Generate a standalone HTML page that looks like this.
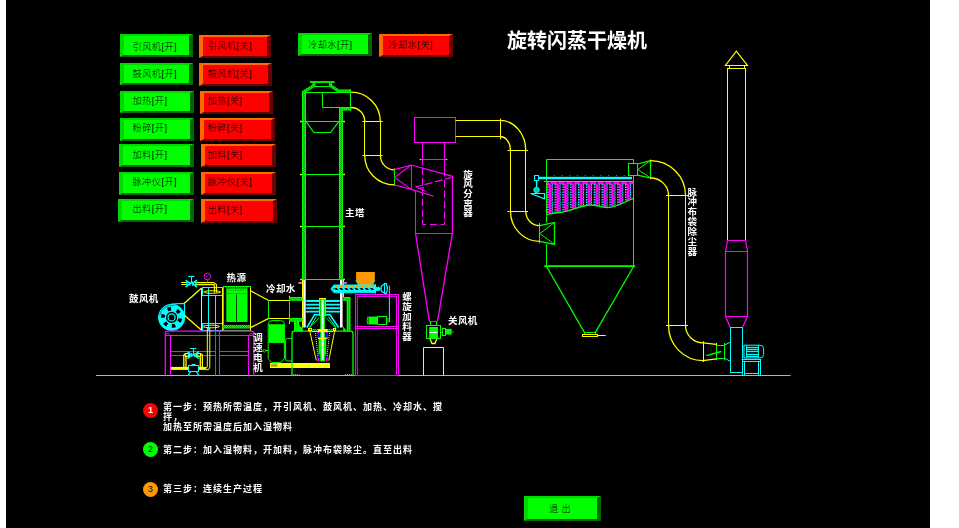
<!DOCTYPE html>
<html lang="zh-CN">
<head>
<meta charset="utf-8">
<title>旋转闪蒸干燥机</title>
<style>
html,body{margin:0;padding:0;background:#fff;}
body{width:959px;height:528px;overflow:hidden;position:relative;font-family:"Liberation Sans","Noto Sans CJK SC","WenQuanYi Zen Hei",sans-serif;}
#scr{position:absolute;left:0;top:0;width:930px;height:528px;background:#000;overflow:hidden;}
#txt{position:absolute;left:0;top:0;width:930px;height:528px;will-change:transform;transform:translateZ(0);}
#dg{position:absolute;left:0;top:0;}
#lw{position:absolute;left:0;top:0;width:6px;height:528px;background:#fff;}
.b{position:absolute;box-sizing:border-box;border-style:solid;border-width:2.5px 4px;font-size:9.2px;line-height:1;color:#001800;white-space:nowrap;letter-spacing:0.45px;font-weight:300;}
.b span{position:absolute;line-height:10px;}
.b.g{background:#00ff00;border-color:#00d800 #006800 #006800 #00d800;color:#000;}
.b.r{background:#ff0000;border-color:#ff6a00 #6a0000 #6a0000 #ff6a00;color:#000;}
#title{position:absolute;left:507px;top:29.2px;font-size:20px;line-height:24px;font-weight:bold;color:#fff;white-space:nowrap;}
.lb{position:absolute;color:#fff;font-size:9.5px;letter-spacing:0.4px;line-height:10px;font-weight:bold;white-space:nowrap;}
.v{width:10px;letter-spacing:0;}
.v span{display:block;height:10px;line-height:10px;width:10px;text-align:center;}
.st{position:absolute;color:#fff;font-size:9px;letter-spacing:1px;line-height:10px;font-weight:bold;white-space:nowrap;}
.n{position:absolute;width:15px;height:15px;border-radius:50%;font-size:9px;line-height:15.5px;text-align:center;font-weight:bold;}
</style>
</head>
<body>
<div id="scr">
<svg id="dg" width="930" height="528" viewBox="0 0 930 528" fill="none" stroke-linecap="butt">
<defs>
<pattern id="hg" width="2" height="2" patternUnits="userSpaceOnUse"><rect width="2" height="2" fill="#00ff00"/><rect x="0" y="0" width="1" height="1" fill="#00b000"/><rect x="1" y="1" width="1" height="1" fill="#00b000"/></pattern>
<clipPath id="bagclip"><path d="M546.5 181.5 L633.5 181.5 L633.5 198.7 C625 201 618 207.5 607.5 207.5 C600 207.5 597 205 591 205 C580 205 570 212 560 212.5 C555 213 550 214 546.5 214.6 Z"/></clipPath>
</defs>
<line x1="96" y1="375.5" x2="790.6" y2="375.5" stroke="#00ffff" stroke-width="1" />
<circle cx="171.6" cy="317.4" r="13.1" fill="#00ffff" stroke="#00ffff" stroke-width="1"/>
<path d="M159.7 315.4 A12 12 0 0 1 174.6 305.7" fill="none" stroke="#003838" stroke-width="0.6" />
<path d="M168.47 311.25 L166.83 307.82 L170.95 306.72 L171.24 310.51 Z" fill="#000"  />
<path d="M175.66 311.82 L177.96 308.8 L180.82 311.97 L177.58 313.95 Z" fill="#000"  />
<path d="M178.45 318.24 L182.21 318.8 L180.82 322.83 L177.51 320.95 Z" fill="#000"  />
<path d="M174.52 323.65 L176.04 327.14 L171.88 328.1 L171.72 324.3 Z" fill="#000"  />
<path d="M168.15 323.38 L166.17 326.62 L163.0 323.76 L166.02 321.46 Z" fill="#000"  />
<path d="M164.71 317.76 L160.91 317.87 L161.58 313.65 L165.16 314.93 Z" fill="#000"  />
<circle cx="171.6" cy="317.4" r="5.6" fill="#000" />
<circle cx="171.6" cy="317.4" r="3.5" fill="none" stroke="#00ffff" stroke-width="1.3"/>
<path d="M171.5 304.0 L184.5 303.4 L184.5 315.5" fill="none" stroke="#00ffff" stroke-width="1.2" />
<line x1="184.4" y1="303.3" x2="201.6" y2="288" stroke="#ffff00" stroke-width="1.3" />
<line x1="184.4" y1="315.2" x2="201.6" y2="330.3" stroke="#ffff00" stroke-width="1.3" />
<line x1="201.5" y1="288" x2="201.5" y2="330.8" stroke="#ffff00" stroke-width="1" />
<rect x="202.5" y="287.5" width="20.0" height="8.0" fill="none" stroke="#00ffff" stroke-width="1" />
<rect x="202.5" y="323.5" width="20.0" height="7.0" fill="none" stroke="#00ffff" stroke-width="1" />
<line x1="208.5" y1="288" x2="208.5" y2="330" stroke="#00ffff" stroke-width="1" />
<line x1="215.5" y1="295" x2="215.5" y2="330" stroke="#00ffff" stroke-width="1" />
<ellipse cx="212.2" cy="292" rx="8.4" ry="1.3" stroke="#ffff00" stroke-width="1"/>
<ellipse cx="211.3" cy="326.5" rx="8.2" ry="1.3" stroke="#ffff00" stroke-width="1"/>
<line x1="222.5" y1="288" x2="222.5" y2="330.8" stroke="#ffff00" stroke-width="1" />
<line x1="181.2" y1="282.5" x2="187.6" y2="282.5" stroke="#ffff00" stroke-width="1" />
<line x1="181.2" y1="284.5" x2="187.6" y2="284.5" stroke="#ffff00" stroke-width="1" />
<path d="M194.6 282.5 L213.6 282.5 L216.5 284.6 L216.5 292.6" fill="none" stroke="#ffff00" stroke-width="1.1" />
<path d="M194.6 284.5 L213 284.5 Q214.5 284.5 214.5 286 L214.5 292.6" fill="none" stroke="#ffff00" stroke-width="1.3" />
<path d="M185.60000000000002 280.20000000000005 L190.20000000000002 283.6 L185.60000000000002 287.20000000000005 M197.0 280.20000000000005 L192.4 283.6 L197.0 287.20000000000005" fill="none" stroke="#00ffff" stroke-width="1.5" />
<path d="M186.70000000000002 282.0 L186.70000000000002 285.40000000000003 M195.9 282.0 L195.9 285.40000000000003" fill="none" stroke="#00ffff" stroke-width="1.2" />
<path d="M190.10000000000002 281.6 L190.10000000000002 285.8 M192.5 281.6 L192.5 285.8" fill="none" stroke="#00ffff" stroke-width="1" />
<line x1="191.5" y1="283.6" x2="191.5" y2="276.5" stroke="#00ffff" stroke-width="1" />
<line x1="188.10000000000002" y1="276.5" x2="194.5" y2="276.5" stroke="#00ffff" stroke-width="1" />
<circle cx="207.3" cy="276.4" r="3.3" fill="none" stroke="#ff00ff" stroke-width="1"/>
<line x1="207.5" y1="279.7" x2="207.5" y2="282.4" stroke="#ff00ff" stroke-width="1" />
<line x1="206" y1="277" x2="208.6" y2="275.4" stroke="#ff00ff" stroke-width="0.8" />
<rect x="223.5" y="286.5" width="27.0" height="44.0" fill="none" stroke="#00ff00" stroke-width="1" />
<rect x="226.3" y="288.3" width="21.2" height="33.7" fill="#00ff00"  />
<line x1="236.5" y1="294.5" x2="236.5" y2="322" stroke="#004000" stroke-width="1" />
<line x1="226.3" y1="293.5" x2="247.5" y2="293.5" stroke="#00c000" stroke-width="1" />
<line x1="228" y1="290.3" x2="246" y2="290.3" stroke="#00b000" stroke-width="1.4" stroke-dasharray="1 1.5"/>
<rect x="222.5" y="324.9" width="27.8" height="3.7" fill="url(#hg)"  />
<line x1="226.3" y1="287.5" x2="247.5" y2="287.5" stroke="#00ff00" stroke-width="1" stroke-dasharray="1 1"/>
<line x1="250.5" y1="288" x2="250.5" y2="330.8" stroke="#ffff00" stroke-width="1" />
<line x1="250.6" y1="290.8" x2="268.2" y2="300.2" stroke="#ffff00" stroke-width="1.3" />
<line x1="250.6" y1="327.6" x2="268.2" y2="318.6" stroke="#ffff00" stroke-width="1.3" />
<line x1="268.2" y1="300.5" x2="289.4" y2="300.5" stroke="#ffff00" stroke-width="1" />
<line x1="268.2" y1="318.5" x2="289.4" y2="318.5" stroke="#ffff00" stroke-width="1" />
<line x1="268.5" y1="300.4" x2="268.5" y2="318.6" stroke="#00ff00" stroke-width="1" />
<line x1="289.5" y1="296.6" x2="289.5" y2="323.2" stroke="#00ff00" stroke-width="1" />
<line x1="289.5" y1="295.8" x2="289.5" y2="297.2" stroke="#ffff00" stroke-width="1" />
<line x1="289.5" y1="322.6" x2="289.5" y2="324" stroke="#ffff00" stroke-width="1" />
<path d="M165.3 375.5 L165.3 333.5 Q165.3 331.2 167.6 331.2 L251.4 331.2 Q253.7 331.2 253.7 333.5 L253.7 375.5" fill="none" stroke="#ff00ff" stroke-width="1.3" />
<line x1="165.3" y1="335.5" x2="253.7" y2="335.5" stroke="#ff00ff" stroke-width="1" />
<path d="M165.8 335 Q167.8 331.4 170.2 335" fill="none" stroke="#ff00ff" stroke-width="0.9" />
<path d="M248.8 335 Q251.2 331.4 253.4 335" fill="none" stroke="#ff00ff" stroke-width="0.9" />
<line x1="170.5" y1="335" x2="170.5" y2="375.5" stroke="#ff00ff" stroke-width="1" />
<line x1="248.5" y1="335" x2="248.5" y2="375.5" stroke="#ff00ff" stroke-width="1" />
<line x1="215.5" y1="331.2" x2="215.5" y2="375.5" stroke="#ff00ff" stroke-width="1" />
<line x1="219.5" y1="331.2" x2="219.5" y2="375.5" stroke="#ff00ff" stroke-width="1" />
<line x1="170.3" y1="351.5" x2="215.3" y2="351.5" stroke="#ff00ff" stroke-width="1" />
<line x1="170.3" y1="355.5" x2="215.3" y2="355.5" stroke="#ff00ff" stroke-width="1" />
<line x1="219.1" y1="351.5" x2="248.7" y2="351.5" stroke="#ff00ff" stroke-width="1" />
<line x1="219.1" y1="355.5" x2="248.7" y2="355.5" stroke="#ff00ff" stroke-width="1" />
<rect x="170.8" y="366.9" width="35.2" height="3.0" fill="#ffff00"  />
<path d="M207.3 327.5 L207.3 366 Q207.3 368.4 205 368.4" fill="none" stroke="#ffff00" stroke-width="1" />
<path d="M209.8 327.5 L209.8 367 Q209.8 370 206 370" fill="none" stroke="#ffff00" stroke-width="1" />
<path d="M183.8 367 L183.8 356 Q183.8 354 185.6 354" fill="none" stroke="#ffff00" stroke-width="1.3" />
<path d="M186 367 L186 357.4 Q186 356.4 187 356.4" fill="none" stroke="#ffff00" stroke-width="1.3" />
<path d="M202.4 367 L202.4 356 Q202.4 354 200.6 354" fill="none" stroke="#ffff00" stroke-width="1.3" />
<path d="M200.3 367 L200.3 357.4 Q200.3 356.4 199.4 356.4" fill="none" stroke="#ffff00" stroke-width="1.3" />
<rect x="185.5" y="353.5" width="4.0" height="3.0" fill="none" stroke="#ffff00" stroke-width="1" />
<rect x="196.5" y="353.5" width="4.0" height="3.0" fill="none" stroke="#ffff00" stroke-width="1" />
<path d="M187.4 351.6 L192.0 355 L187.4 358.6 M198.79999999999998 351.6 L194.2 355 L198.79999999999998 358.6" fill="none" stroke="#00ffff" stroke-width="1.5" />
<path d="M188.5 353.4 L188.5 356.8 M197.7 353.4 L197.7 356.8" fill="none" stroke="#00ffff" stroke-width="1.2" />
<path d="M191.9 353 L191.9 357.2 M194.29999999999998 353 L194.29999999999998 357.2" fill="none" stroke="#00ffff" stroke-width="1" />
<line x1="193.5" y1="355" x2="193.5" y2="348.5" stroke="#00ffff" stroke-width="1" />
<line x1="189.9" y1="348.5" x2="196.29999999999998" y2="348.5" stroke="#00ffff" stroke-width="1" />
<rect x="188.5" y="365.5" width="10.0" height="6.0" fill="#000" stroke="#00ffff" stroke-width="1" />
<line x1="191.5" y1="365" x2="195.5" y2="365" stroke="#00ffff" stroke-width="2" />
<path d="M190.5 371.8 L188 375.5 L199 375.5 L196.5 371.8" fill="none" stroke="#00ffff" stroke-width="1.2" />
<path d="M268.2 342.4 L268.2 324 Q268.2 320.6 272 320.6 L280.6 320.6 Q284.4 320.6 284.4 324 L284.4 342.4 Z" fill="none" stroke="#00ff00" stroke-width="1" />
<rect x="268.7" y="324.2" width="15.3" height="18.2" fill="#00ff00"  />
<path d="M268.2 342.4 L268.2 358.6 L271.5 362.4 L281 362.4 L284.4 358.6 L284.4 342.4" fill="none" stroke="#00ff00" stroke-width="1" />
<path d="M292 338.6 L287.4 338.6 Q285.6 338.6 285.6 340.6 L285.6 359 Q285.6 361 287.4 361 L292 361" fill="none" stroke="#00ff00" stroke-width="1" />
<circle cx="264.4" cy="350.8" r="1.3" fill="none" stroke="#00ff00" stroke-width="0.9"/>
<line x1="265.7" y1="350.5" x2="268.2" y2="350.5" stroke="#00ff00" stroke-width="1" />
<rect x="270" y="363" width="60" height="5" fill="#ffff00"  />
<rect x="271" y="364.3" width="6.5" height="2.3" fill="#a0a000"  />
<path d="M292 375.5 L292 333.5 Q292 331.2 294.5 331.2 L350.5 331.2 Q353 331.2 353 333.5 L353 375.5" fill="none" stroke="#00ff00" stroke-width="1.3" />
<line x1="293" y1="374.6" x2="299.5" y2="374.6" stroke="#00ff00" stroke-width="1.4" stroke-dasharray="1 1"/>
<line x1="345" y1="374.6" x2="353" y2="374.6" stroke="#00ff00" stroke-width="1.4" stroke-dasharray="1 1"/>
<rect x="302" y="91" width="4" height="188" fill="#00ff00"/>
<line x1="303.5" y1="91" x2="303.5" y2="279" stroke="#00a000" stroke-width="1" stroke-dasharray="1 1"/>
<line x1="304.5" y1="92" x2="304.5" y2="279" stroke="#00a000" stroke-width="1" stroke-dasharray="1 1"/>
<rect x="339" y="108" width="4" height="171" fill="#00ff00"/>
<line x1="340.5" y1="108" x2="340.5" y2="279" stroke="#00a000" stroke-width="1" stroke-dasharray="1 1"/>
<line x1="341.5" y1="109" x2="341.5" y2="279" stroke="#00a000" stroke-width="1" stroke-dasharray="1 1"/>
<rect x="310" y="81.1" width="24.5" height="1.8" fill="#00ff00"  />
<path d="M314 82.9 L314 86" fill="none" stroke="#00ff00" stroke-width="3" stroke-linejoin="miter"/>
<path d="M314 82.9 L314 86" fill="none" stroke="#009000" stroke-width="1.2" stroke-dasharray="1 1"/>
<path d="M330.5 82.9 L330.5 86" fill="none" stroke="#00ff00" stroke-width="3" stroke-linejoin="miter"/>
<path d="M330.5 82.9 L330.5 86" fill="none" stroke="#009000" stroke-width="1.2" stroke-dasharray="1 1"/>
<line x1="313" y1="86.5" x2="331.5" y2="86.5" stroke="#00ff00" stroke-width="1" />
<path d="M314.5 85.2 L303.4 92" fill="none" stroke="#00ff00" stroke-width="3" stroke-linejoin="miter"/>
<path d="M314.5 85.2 L303.4 92" fill="none" stroke="#009000" stroke-width="1.2" stroke-dasharray="1 1"/>
<path d="M330 85.2 L338.8 91.2 L351 91.2" fill="none" stroke="#00ff00" stroke-width="3.2" stroke-linejoin="miter"/>
<path d="M330 85.2 L338.8 91.2 L351 91.2" fill="none" stroke="#009000" stroke-width="1.2" stroke-dasharray="1 1"/>
<line x1="305.6" y1="92.5" x2="351" y2="92.5" stroke="#00ff00" stroke-width="1" />
<path d="M322.5 92.8 L322.5 107.5 L351 107.5" fill="none" stroke="#00ff00" stroke-width="1" />
<line x1="350.5" y1="89.6" x2="350.5" y2="110.6" stroke="#00ff00" stroke-width="1" />
<path d="M343 109 L351.2 109" fill="none" stroke="#00ff00" stroke-width="3" stroke-linejoin="miter"/>
<path d="M343 109 L351.2 109" fill="none" stroke="#009000" stroke-width="1.2" stroke-dasharray="1 1"/>
<line x1="302" y1="121.5" x2="343" y2="121.5" stroke="#00ff00" stroke-width="1" />
<line x1="300" y1="121.5" x2="302" y2="121.5" stroke="#d8f000" stroke-width="1.6" />
<line x1="343" y1="121.5" x2="345" y2="121.5" stroke="#d8f000" stroke-width="1.6" />
<line x1="302" y1="174.5" x2="343" y2="174.5" stroke="#00ff00" stroke-width="1" />
<line x1="300" y1="174.5" x2="302" y2="174.5" stroke="#d8f000" stroke-width="1.6" />
<line x1="343" y1="174.5" x2="345" y2="174.5" stroke="#d8f000" stroke-width="1.6" />
<line x1="302" y1="226.5" x2="343" y2="226.5" stroke="#00ff00" stroke-width="1" />
<line x1="300" y1="226.5" x2="302" y2="226.5" stroke="#d8f000" stroke-width="1.6" />
<line x1="343" y1="226.5" x2="345" y2="226.5" stroke="#d8f000" stroke-width="1.6" />
<line x1="302" y1="279.5" x2="343" y2="279.5" stroke="#00ff00" stroke-width="1" />
<line x1="300" y1="279.5" x2="302" y2="279.5" stroke="#d8f000" stroke-width="1.6" />
<line x1="343" y1="279.5" x2="345" y2="279.5" stroke="#d8f000" stroke-width="1.6" />
<path d="M306 121.3 L313.8 132.5 L330.6 132.5 L339 121.3" fill="none" stroke="#00ff00" stroke-width="1.2" />
<rect x="303.2" y="280" width="2.5" height="47.5" fill="#ffffff"  />
<line x1="302.5" y1="280" x2="302.5" y2="327.5" stroke="#ffff00" stroke-width="1" />
<rect x="340" y="280" width="2.6" height="47.5" fill="#ffffff"  />
<line x1="343.5" y1="280" x2="343.5" y2="297" stroke="#ffff00" stroke-width="1" />
<line x1="298.4" y1="282.9" x2="302" y2="282.9" stroke="#ff70ff" stroke-width="1.7" />
<line x1="343.2" y1="282.9" x2="346.8" y2="282.9" stroke="#ff70ff" stroke-width="1.7" />
<path d="M289.6 298.9 L302.4 298.9" fill="none" stroke="#00ff00" stroke-width="3.8" stroke-linejoin="miter"/>
<path d="M289.6 298.9 L302.4 298.9" fill="none" stroke="#009000" stroke-width="1.2" stroke-dasharray="1 1"/>
<path d="M289.6 319.8 L302.4 319.8" fill="none" stroke="#00ff00" stroke-width="3.8" stroke-linejoin="miter"/>
<path d="M289.6 319.8 L302.4 319.8" fill="none" stroke="#009000" stroke-width="1.2" stroke-dasharray="1 1"/>
<path d="M296.5 321 L296.5 331.2" fill="none" stroke="#00ff00" stroke-width="5" stroke-linejoin="miter"/>
<path d="M296.5 321 L296.5 331.2" fill="none" stroke="#009000" stroke-width="1.2" stroke-dasharray="1 1"/>
<path d="M299 324.5 L303 330 L303 331.4 L299 331.4 Z" fill="#00ff00"  />
<path d="M343.2 298.9 L348.6 298.9 L348.6 331.2" fill="none" stroke="#00ff00" stroke-width="3.8" stroke-linejoin="miter"/>
<path d="M343.2 298.9 L348.6 298.9 L348.6 331.2" fill="none" stroke="#009000" stroke-width="1.2" stroke-dasharray="1 1"/>
<path d="M297.5 331 L302.6 326 L302.6 331 Z" fill="#00ff00"  />
<path d="M346.5 331 L343.2 326 L343.2 331 Z" fill="#00ff00"  />
<line x1="306.4" y1="301" x2="339.6" y2="301" stroke="#00ffff" stroke-width="1.8" />
<line x1="306.4" y1="304.7" x2="339.6" y2="304.7" stroke="#00ffff" stroke-width="1.8" />
<line x1="306.4" y1="308.2" x2="339.6" y2="308.2" stroke="#00ffff" stroke-width="1.8" />
<line x1="306.4" y1="311.7" x2="339.6" y2="311.7" stroke="#00ffff" stroke-width="1.8" />
<path d="M306.4 300.4 L307.6 302 M306.4 304 L307.6 305.6 M306.4 307.6 L307.6 309.2 M306.4 311 L307.6 312.6" fill="none" stroke="#00ffff" stroke-width="1" />
<path d="M339.6 300.4 L338.4 302 M339.6 304 L338.4 305.6 M339.6 307.6 L338.4 309.2 M339.6 311 L338.4 312.6" fill="none" stroke="#00ffff" stroke-width="1" />
<path d="M306.9 327.5 L314.6 314.7 L330 314.7 L338.6 327.5" fill="none" stroke="#00ffff" stroke-width="1.6" />
<path d="M309.6 327.5 L316.4 316.6 M336 327.5 L328.4 316.6" fill="none" stroke="#00ffff" stroke-width="1" />
<line x1="308.6" y1="329" x2="319.2" y2="317.6" stroke="#00ff00" stroke-width="0.9" />
<line x1="336.6" y1="329" x2="326" y2="317.6" stroke="#00ff00" stroke-width="0.9" />
<rect x="319.5" y="298.5" width="6.0" height="17.0" fill="#000" stroke="#00ffff" stroke-width="1" />
<rect x="320.2" y="299" width="4.7" height="62.5" fill="#00ff00"  />
<rect x="318.6" y="336.8" width="7.6" height="18.7" fill="#00ff00"  />
<rect x="321.6" y="300" width="2.1" height="60" fill="#e0ffe0"  />
<line x1="319.4" y1="298.5" x2="325.7" y2="298.5" stroke="#ffff00" stroke-width="1" />
<rect x="318" y="329" width="9.5" height="2.5" fill="#ffff00"  />
<rect x="317.5" y="331.5" width="2.0" height="6.5" fill="#ff00ff"  />
<rect x="325.6" y="331.5" width="2.0" height="6.5" fill="#ff00ff"  />
<rect x="318" y="333" width="2" height="4" fill="#0000ff"  />
<rect x="325.2" y="333" width="2.0" height="4" fill="#0000ff"  />
<rect x="317.5" y="355" width="2.0" height="6.5" fill="#ff00ff"  />
<rect x="325.6" y="355" width="2.0" height="6.5" fill="#ff00ff"  />
<rect x="318" y="354.5" width="2" height="3.5" fill="#0000ff"  />
<rect x="325.2" y="354.5" width="2.0" height="3.5" fill="#0000ff"  />
<line x1="318" y1="338.5" x2="327.5" y2="338.5" stroke="#ffff00" stroke-width="1" />
<path d="M309.4 329.3 L316.3 360.5" fill="none" stroke="#ffff00" stroke-width="1" />
<path d="M335 329.3 L328.8 360.5" fill="none" stroke="#ffff00" stroke-width="1" />
<rect x="308.5" y="328.5" width="3.0" height="2.0" fill="none" stroke="#ffff00" stroke-width="1" />
<rect x="333.5" y="328.5" width="2.0" height="2.0" fill="none" stroke="#ffff00" stroke-width="1" />
<path d="M315.4 333 L318 356" fill="none" stroke="#ffff00" stroke-width="1" stroke-dasharray="1 1"/>
<path d="M329.6 333 L327 356" fill="none" stroke="#ffff00" stroke-width="1" stroke-dasharray="1 1"/>
<line x1="311.4" y1="329.5" x2="333" y2="329.5" stroke="#ffff00" stroke-width="1" stroke-dasharray="1 1"/>
<line x1="311.4" y1="331.5" x2="333" y2="331.5" stroke="#ffff00" stroke-width="1" />
<path d="M351 92.2 A29.3 29.1 0 0 1 380.3 121.3" fill="none" stroke="#ffff00" stroke-width="1.3" />
<path d="M351 107.5 A13.7 13.8 0 0 1 364.7 121.3" fill="none" stroke="#ffff00" stroke-width="1.3" />
<line x1="362.3" y1="121.5" x2="382.7" y2="121.5" stroke="#ffff00" stroke-width="1" />
<line x1="364.5" y1="121.3" x2="364.5" y2="155.4" stroke="#ffff00" stroke-width="1" />
<line x1="380.5" y1="121.3" x2="380.5" y2="155.4" stroke="#ffff00" stroke-width="1" />
<line x1="362.4" y1="155.5" x2="382.6" y2="155.5" stroke="#ffff00" stroke-width="1" />
<path d="M364.7 155.4 A29.7 29.4 0 0 0 394.4 184.8" fill="none" stroke="#ffff00" stroke-width="1.3" />
<path d="M380.4 155.4 A14 14.4 0 0 0 394.4 169.8" fill="none" stroke="#ffff00" stroke-width="1.3" />
<line x1="394.5" y1="169" x2="394.5" y2="185.4" stroke="#00ff00" stroke-width="1" />
<line x1="394.4" y1="168.4" x2="394.4" y2="170.2" stroke="#ff9900" stroke-width="1.4" />
<line x1="394.4" y1="184.2" x2="394.4" y2="186" stroke="#ff9900" stroke-width="1.4" />
<rect x="414.5" y="117.5" width="41.0" height="25.0" fill="none" stroke="#ff00ff" stroke-width="1" />
<line x1="422.5" y1="142.4" x2="422.5" y2="165" stroke="#ff00ff" stroke-width="1" />
<line x1="444.5" y1="142.4" x2="444.5" y2="172" stroke="#ff00ff" stroke-width="1" />
<line x1="420" y1="159.5" x2="447" y2="159.5" stroke="#ff00ff" stroke-width="1" />
<line x1="419.6" y1="159.5" x2="421.4" y2="159.5" stroke="#ff9966" stroke-width="1.3" />
<line x1="445.6" y1="159.5" x2="447.4" y2="159.5" stroke="#ff9966" stroke-width="1.3" />
<path d="M394.4 169.7 L411.3 165 L452.5 176.3 L452.5 233.2" fill="none" stroke="#ff00ff" stroke-width="1.2" />
<path d="M394.4 185 L411.3 189.4 L433.8 196.3" fill="none" stroke="#ff00ff" stroke-width="1.1" />
<line x1="411.5" y1="165" x2="411.5" y2="189.4" stroke="#ff00ff" stroke-width="1" />
<path d="M411.3 165 L394.6 177.4 L411.3 189.4" fill="none" stroke="#ff00ff" stroke-width="1.1" />
<path d="M415.5 190.4 L415.5 233.5 L452.4 233.5" fill="none" stroke="#ff00ff" stroke-width="1" />
<line x1="422.5" y1="165" x2="422.5" y2="224.4" stroke="#ff00ff" stroke-width="1" stroke-dasharray="7.5 3" stroke-dashoffset="8.1"/>
<line x1="444.5" y1="172" x2="444.5" y2="176.4" stroke="#ff00ff" stroke-width="1" />
<line x1="444.5" y1="177" x2="444.5" y2="224.4" stroke="#ff00ff" stroke-width="1" stroke-dasharray="7.5 3" stroke-dashoffset="7.5"/>
<line x1="422.5" y1="224.5" x2="444.5" y2="224.5" stroke="#ff00ff" stroke-width="1" stroke-dasharray="7 3.8" stroke-dashoffset="3.5"/>
<line x1="415.6" y1="186.9" x2="451.3" y2="177.6" stroke="#ff00ff" stroke-width="1.2" stroke-dasharray="8 2.8" stroke-dashoffset="1.6"/>
<path d="M415.6 186.9 L426.3 191.5" fill="none" stroke="#ff00ff" stroke-width="1" />
<path d="M418 188.5 L424 187.2" fill="none" stroke="#ff00ff" stroke-width="0.9" />
<line x1="415.5" y1="233.2" x2="429.4" y2="321.3" stroke="#ff00ff" stroke-width="1.3" />
<line x1="452.4" y1="233.2" x2="437.5" y2="321.3" stroke="#ff00ff" stroke-width="1.3" />
<line x1="429.4" y1="321.5" x2="437.5" y2="321.5" stroke="#ff00ff" stroke-width="1" />
<line x1="430.5" y1="321.8" x2="430.5" y2="325.5" stroke="#00ff00" stroke-width="1" />
<line x1="436.5" y1="321.8" x2="436.5" y2="325.5" stroke="#00ff00" stroke-width="1" />
<rect x="426.5" y="325.5" width="14.0" height="13.0" fill="none" stroke="#00ff00" stroke-width="1" />
<rect x="429.2" y="327" width="8.8" height="11" fill="#00ff00"  />
<line x1="429.8" y1="332.5" x2="437.4" y2="332.5" stroke="#ffffff" stroke-width="1" />
<rect x="442.5" y="328.5" width="3.0" height="7.0" fill="none" stroke="#00ff00" stroke-width="1" />
<rect x="445.5" y="328.9" width="6.2" height="5.7" fill="#00ff00"  />
<line x1="451.7" y1="331.8" x2="454" y2="331.8" stroke="#008000" stroke-width="1.6" />
<line x1="440.7" y1="332.5" x2="442.2" y2="332.5" stroke="#00ff00" stroke-width="1" />
<path d="M430 338.8 L432 343.5 L435 343.5 L436.8 338.8" fill="none" stroke="#ffff00" stroke-width="1.3" />
<path d="M423.5 375.5 L423.5 347.5 L443.5 347.5 L443.5 375.5" fill="none" stroke="#ffff00" stroke-width="1" />
<line x1="455.6" y1="120.5" x2="500" y2="120.5" stroke="#ffff00" stroke-width="1" />
<line x1="455.6" y1="136.5" x2="500" y2="136.5" stroke="#ffff00" stroke-width="1" />
<line x1="500.5" y1="118.6" x2="500.5" y2="139.4" stroke="#ffff00" stroke-width="1" />
<path d="M500 120.4 A25.7 29.6 0 0 1 525.7 150" fill="none" stroke="#ffff00" stroke-width="1.3" />
<path d="M500 136.5 A10.4 13.5 0 0 1 510.4 150" fill="none" stroke="#ffff00" stroke-width="1.3" />
<line x1="507.5" y1="150.5" x2="528" y2="150.5" stroke="#ffff00" stroke-width="1" />
<line x1="510.5" y1="150" x2="510.5" y2="211.6" stroke="#ffff00" stroke-width="1" />
<line x1="525.5" y1="150" x2="525.5" y2="211.6" stroke="#ffff00" stroke-width="1" />
<line x1="507.5" y1="211.5" x2="528" y2="211.5" stroke="#ffff00" stroke-width="1" />
<path d="M510.5 211.6 A29.1 29.7 0 0 0 539.6 241.3" fill="none" stroke="#ffff00" stroke-width="1.3" />
<path d="M525.8 211.6 A13.8 14 0 0 0 539.6 225.6" fill="none" stroke="#ffff00" stroke-width="1.3" />
<line x1="539.5" y1="223" x2="539.5" y2="243.4" stroke="#00ff00" stroke-width="1" />
<line x1="539.5" y1="224.6" x2="539.5" y2="226.4" stroke="#ffff00" stroke-width="1" />
<line x1="539.5" y1="240.4" x2="539.5" y2="242.2" stroke="#ffff00" stroke-width="1" />
<path d="M539.6 225.6 L554.5 222.5 L554.5 244.4 L539.6 241.3" fill="none" stroke="#00ff00" stroke-width="1.2" />
<path d="M554.6 222.5 L539.8 233.5 L554.6 244.4" fill="none" stroke="#00ff00" stroke-width="1" />
<path d="M546.5 222.8 L546.5 159.5 L633.5 159.5 L633.5 163.8" fill="none" stroke="#00ff00" stroke-width="1" />
<line x1="546.5" y1="244.2" x2="546.5" y2="266" stroke="#00ff00" stroke-width="1" />
<line x1="633.5" y1="175.4" x2="633.5" y2="266" stroke="#00ff00" stroke-width="1" />
<line x1="544.2" y1="266.1" x2="635.2" y2="266.1" stroke="#00ff00" stroke-width="1.8" />
<line x1="546.5" y1="266.5" x2="584.4" y2="332.4" stroke="#00ff00" stroke-width="1.3" />
<line x1="633.6" y1="266.5" x2="595.4" y2="332.4" stroke="#00ff00" stroke-width="1.3" />
<rect x="584.5" y="332.5" width="11.0" height="2.0" fill="none" stroke="#00ff00" stroke-width="1" />
<rect x="582.5" y="334.5" width="15.0" height="2.0" fill="none" stroke="#ffff00" stroke-width="1" />
<line x1="597.2" y1="335.5" x2="605.8" y2="335.5" stroke="#ffff00" stroke-width="1" />
<g clip-path="url(#bagclip)">
<rect x="546.8" y="181" width="87" height="3.2" fill="#ff00ff"/>
<path d="M551.3 183.4 L548.3 184.65 L551.3 185.9 L548.3 187.15 L551.3 188.4 L548.3 189.65 L551.3 190.9 L548.3 192.15 L551.3 193.4 L548.3 194.65 L551.3 195.9 L548.3 197.15 L551.3 198.4 L548.3 199.65 L551.3 200.9 L548.3 202.15 L551.3 203.4 L548.3 204.65 L551.3 205.9 L548.3 207.15 L551.3 208.4 L548.3 209.65 L551.3 210.9 L548.3 212.15 L551.3 213.4 L548.3 214.65 L551.3 215.9" stroke="#ff00ff" stroke-width="1.5" fill="none"/>
<line x1="549.8" y1="184" x2="549.8" y2="217" stroke="#ff00ff" stroke-width="1.6" opacity="0.55"/>
<line x1="547.3" y1="184" x2="547.3" y2="217" stroke="#00ffff" stroke-width="1" stroke-dasharray="1.6 0.9"/>
<line x1="552.3" y1="184" x2="552.3" y2="217" stroke="#00ffff" stroke-width="1" stroke-dasharray="1.6 0.9"/>
<circle cx="549.8" cy="182.7" r="0.85" fill="#000"/>
<path d="M559.13 183.4 L556.13 184.65 L559.13 185.9 L556.13 187.15 L559.13 188.4 L556.13 189.65 L559.13 190.9 L556.13 192.15 L559.13 193.4 L556.13 194.65 L559.13 195.9 L556.13 197.15 L559.13 198.4 L556.13 199.65 L559.13 200.9 L556.13 202.15 L559.13 203.4 L556.13 204.65 L559.13 205.9 L556.13 207.15 L559.13 208.4 L556.13 209.65 L559.13 210.9 L556.13 212.15 L559.13 213.4 L556.13 214.65 L559.13 215.9" stroke="#ff00ff" stroke-width="1.5" fill="none"/>
<line x1="557.63" y1="184" x2="557.63" y2="217" stroke="#ff00ff" stroke-width="1.6" opacity="0.55"/>
<line x1="555.13" y1="184" x2="555.13" y2="217" stroke="#00ffff" stroke-width="1" stroke-dasharray="1.6 0.9"/>
<line x1="560.13" y1="184" x2="560.13" y2="217" stroke="#00ffff" stroke-width="1" stroke-dasharray="1.6 0.9"/>
<circle cx="557.63" cy="182.7" r="0.85" fill="#000"/>
<path d="M566.96 183.4 L563.96 184.65 L566.96 185.9 L563.96 187.15 L566.96 188.4 L563.96 189.65 L566.96 190.9 L563.96 192.15 L566.96 193.4 L563.96 194.65 L566.96 195.9 L563.96 197.15 L566.96 198.4 L563.96 199.65 L566.96 200.9 L563.96 202.15 L566.96 203.4 L563.96 204.65 L566.96 205.9 L563.96 207.15 L566.96 208.4 L563.96 209.65 L566.96 210.9 L563.96 212.15 L566.96 213.4 L563.96 214.65 L566.96 215.9" stroke="#ff00ff" stroke-width="1.5" fill="none"/>
<line x1="565.46" y1="184" x2="565.46" y2="217" stroke="#ff00ff" stroke-width="1.6" opacity="0.55"/>
<line x1="562.96" y1="184" x2="562.96" y2="217" stroke="#00ffff" stroke-width="1" stroke-dasharray="1.6 0.9"/>
<line x1="567.96" y1="184" x2="567.96" y2="217" stroke="#00ffff" stroke-width="1" stroke-dasharray="1.6 0.9"/>
<circle cx="565.46" cy="182.7" r="0.85" fill="#000"/>
<path d="M574.79 183.4 L571.79 184.65 L574.79 185.9 L571.79 187.15 L574.79 188.4 L571.79 189.65 L574.79 190.9 L571.79 192.15 L574.79 193.4 L571.79 194.65 L574.79 195.9 L571.79 197.15 L574.79 198.4 L571.79 199.65 L574.79 200.9 L571.79 202.15 L574.79 203.4 L571.79 204.65 L574.79 205.9 L571.79 207.15 L574.79 208.4 L571.79 209.65 L574.79 210.9 L571.79 212.15 L574.79 213.4 L571.79 214.65 L574.79 215.9" stroke="#ff00ff" stroke-width="1.5" fill="none"/>
<line x1="573.29" y1="184" x2="573.29" y2="217" stroke="#ff00ff" stroke-width="1.6" opacity="0.55"/>
<line x1="570.79" y1="184" x2="570.79" y2="217" stroke="#00ffff" stroke-width="1" stroke-dasharray="1.6 0.9"/>
<line x1="575.79" y1="184" x2="575.79" y2="217" stroke="#00ffff" stroke-width="1" stroke-dasharray="1.6 0.9"/>
<circle cx="573.29" cy="182.7" r="0.85" fill="#000"/>
<path d="M582.62 183.4 L579.62 184.65 L582.62 185.9 L579.62 187.15 L582.62 188.4 L579.62 189.65 L582.62 190.9 L579.62 192.15 L582.62 193.4 L579.62 194.65 L582.62 195.9 L579.62 197.15 L582.62 198.4 L579.62 199.65 L582.62 200.9 L579.62 202.15 L582.62 203.4 L579.62 204.65 L582.62 205.9 L579.62 207.15 L582.62 208.4 L579.62 209.65 L582.62 210.9 L579.62 212.15 L582.62 213.4 L579.62 214.65 L582.62 215.9" stroke="#ff00ff" stroke-width="1.5" fill="none"/>
<line x1="581.12" y1="184" x2="581.12" y2="217" stroke="#ff00ff" stroke-width="1.6" opacity="0.55"/>
<line x1="578.62" y1="184" x2="578.62" y2="217" stroke="#00ffff" stroke-width="1" stroke-dasharray="1.6 0.9"/>
<line x1="583.62" y1="184" x2="583.62" y2="217" stroke="#00ffff" stroke-width="1" stroke-dasharray="1.6 0.9"/>
<circle cx="581.12" cy="182.7" r="0.85" fill="#000"/>
<path d="M590.45 183.4 L587.45 184.65 L590.45 185.9 L587.45 187.15 L590.45 188.4 L587.45 189.65 L590.45 190.9 L587.45 192.15 L590.45 193.4 L587.45 194.65 L590.45 195.9 L587.45 197.15 L590.45 198.4 L587.45 199.65 L590.45 200.9 L587.45 202.15 L590.45 203.4 L587.45 204.65 L590.45 205.9 L587.45 207.15 L590.45 208.4 L587.45 209.65 L590.45 210.9 L587.45 212.15 L590.45 213.4 L587.45 214.65 L590.45 215.9" stroke="#ff00ff" stroke-width="1.5" fill="none"/>
<line x1="588.95" y1="184" x2="588.95" y2="217" stroke="#ff00ff" stroke-width="1.6" opacity="0.55"/>
<line x1="586.45" y1="184" x2="586.45" y2="217" stroke="#00ffff" stroke-width="1" stroke-dasharray="1.6 0.9"/>
<line x1="591.45" y1="184" x2="591.45" y2="217" stroke="#00ffff" stroke-width="1" stroke-dasharray="1.6 0.9"/>
<circle cx="588.95" cy="182.7" r="0.85" fill="#000"/>
<path d="M598.28 183.4 L595.28 184.65 L598.28 185.9 L595.28 187.15 L598.28 188.4 L595.28 189.65 L598.28 190.9 L595.28 192.15 L598.28 193.4 L595.28 194.65 L598.28 195.9 L595.28 197.15 L598.28 198.4 L595.28 199.65 L598.28 200.9 L595.28 202.15 L598.28 203.4 L595.28 204.65 L598.28 205.9 L595.28 207.15 L598.28 208.4 L595.28 209.65 L598.28 210.9 L595.28 212.15 L598.28 213.4 L595.28 214.65 L598.28 215.9" stroke="#ff00ff" stroke-width="1.5" fill="none"/>
<line x1="596.78" y1="184" x2="596.78" y2="217" stroke="#ff00ff" stroke-width="1.6" opacity="0.55"/>
<line x1="594.28" y1="184" x2="594.28" y2="217" stroke="#00ffff" stroke-width="1" stroke-dasharray="1.6 0.9"/>
<line x1="599.28" y1="184" x2="599.28" y2="217" stroke="#00ffff" stroke-width="1" stroke-dasharray="1.6 0.9"/>
<circle cx="596.78" cy="182.7" r="0.85" fill="#000"/>
<path d="M606.11 183.4 L603.11 184.65 L606.11 185.9 L603.11 187.15 L606.11 188.4 L603.11 189.65 L606.11 190.9 L603.11 192.15 L606.11 193.4 L603.11 194.65 L606.11 195.9 L603.11 197.15 L606.11 198.4 L603.11 199.65 L606.11 200.9 L603.11 202.15 L606.11 203.4 L603.11 204.65 L606.11 205.9 L603.11 207.15 L606.11 208.4 L603.11 209.65 L606.11 210.9 L603.11 212.15 L606.11 213.4 L603.11 214.65 L606.11 215.9" stroke="#ff00ff" stroke-width="1.5" fill="none"/>
<line x1="604.61" y1="184" x2="604.61" y2="217" stroke="#ff00ff" stroke-width="1.6" opacity="0.55"/>
<line x1="602.11" y1="184" x2="602.11" y2="217" stroke="#00ffff" stroke-width="1" stroke-dasharray="1.6 0.9"/>
<line x1="607.11" y1="184" x2="607.11" y2="217" stroke="#00ffff" stroke-width="1" stroke-dasharray="1.6 0.9"/>
<circle cx="604.61" cy="182.7" r="0.85" fill="#000"/>
<path d="M613.94 183.4 L610.94 184.65 L613.94 185.9 L610.94 187.15 L613.94 188.4 L610.94 189.65 L613.94 190.9 L610.94 192.15 L613.94 193.4 L610.94 194.65 L613.94 195.9 L610.94 197.15 L613.94 198.4 L610.94 199.65 L613.94 200.9 L610.94 202.15 L613.94 203.4 L610.94 204.65 L613.94 205.9 L610.94 207.15 L613.94 208.4 L610.94 209.65 L613.94 210.9 L610.94 212.15 L613.94 213.4 L610.94 214.65 L613.94 215.9" stroke="#ff00ff" stroke-width="1.5" fill="none"/>
<line x1="612.44" y1="184" x2="612.44" y2="217" stroke="#ff00ff" stroke-width="1.6" opacity="0.55"/>
<line x1="609.94" y1="184" x2="609.94" y2="217" stroke="#00ffff" stroke-width="1" stroke-dasharray="1.6 0.9"/>
<line x1="614.94" y1="184" x2="614.94" y2="217" stroke="#00ffff" stroke-width="1" stroke-dasharray="1.6 0.9"/>
<circle cx="612.44" cy="182.7" r="0.85" fill="#000"/>
<path d="M621.77 183.4 L618.77 184.65 L621.77 185.9 L618.77 187.15 L621.77 188.4 L618.77 189.65 L621.77 190.9 L618.77 192.15 L621.77 193.4 L618.77 194.65 L621.77 195.9 L618.77 197.15 L621.77 198.4 L618.77 199.65 L621.77 200.9 L618.77 202.15 L621.77 203.4 L618.77 204.65 L621.77 205.9 L618.77 207.15 L621.77 208.4 L618.77 209.65 L621.77 210.9 L618.77 212.15 L621.77 213.4 L618.77 214.65 L621.77 215.9" stroke="#ff00ff" stroke-width="1.5" fill="none"/>
<line x1="620.27" y1="184" x2="620.27" y2="217" stroke="#ff00ff" stroke-width="1.6" opacity="0.55"/>
<line x1="617.77" y1="184" x2="617.77" y2="217" stroke="#00ffff" stroke-width="1" stroke-dasharray="1.6 0.9"/>
<line x1="622.77" y1="184" x2="622.77" y2="217" stroke="#00ffff" stroke-width="1" stroke-dasharray="1.6 0.9"/>
<circle cx="620.27" cy="182.7" r="0.85" fill="#000"/>
<path d="M629.6 183.4 L626.6 184.65 L629.6 185.9 L626.6 187.15 L629.6 188.4 L626.6 189.65 L629.6 190.9 L626.6 192.15 L629.6 193.4 L626.6 194.65 L629.6 195.9 L626.6 197.15 L629.6 198.4 L626.6 199.65 L629.6 200.9 L626.6 202.15 L629.6 203.4 L626.6 204.65 L629.6 205.9 L626.6 207.15 L629.6 208.4 L626.6 209.65 L629.6 210.9 L626.6 212.15 L629.6 213.4 L626.6 214.65 L629.6 215.9" stroke="#ff00ff" stroke-width="1.5" fill="none"/>
<line x1="628.1" y1="184" x2="628.1" y2="217" stroke="#ff00ff" stroke-width="1.6" opacity="0.55"/>
<line x1="625.6" y1="184" x2="625.6" y2="217" stroke="#00ffff" stroke-width="1" stroke-dasharray="1.6 0.9"/>
<line x1="630.6" y1="184" x2="630.6" y2="217" stroke="#00ffff" stroke-width="1" stroke-dasharray="1.6 0.9"/>
<circle cx="628.1" cy="182.7" r="0.85" fill="#000"/>
<path d="M637.43 183.4 L634.43 184.65 L637.43 185.9 L634.43 187.15 L637.43 188.4 L634.43 189.65 L637.43 190.9 L634.43 192.15 L637.43 193.4 L634.43 194.65 L637.43 195.9 L634.43 197.15 L637.43 198.4 L634.43 199.65 L637.43 200.9 L634.43 202.15 L637.43 203.4 L634.43 204.65 L637.43 205.9 L634.43 207.15 L637.43 208.4 L634.43 209.65 L637.43 210.9 L634.43 212.15 L637.43 213.4 L634.43 214.65 L637.43 215.9" stroke="#ff00ff" stroke-width="1.5" fill="none"/>
<line x1="635.93" y1="184" x2="635.93" y2="217" stroke="#ff00ff" stroke-width="1.6" opacity="0.55"/>
<line x1="633.43" y1="184" x2="633.43" y2="217" stroke="#00ffff" stroke-width="1" stroke-dasharray="1.6 0.9"/>
<line x1="638.43" y1="184" x2="638.43" y2="217" stroke="#00ffff" stroke-width="1" stroke-dasharray="1.6 0.9"/>
<circle cx="635.93" cy="182.7" r="0.85" fill="#000"/>
</g>
<path d="M546.5 214.6 C550 214 555 213 560 212.5 C570 212 580 205 591 205 C597 205 600 207.5 607.5 207.5 C618 207.5 625 201 633.5 198.7" fill="none" stroke="#00ff00" stroke-width="1.3" />
<line x1="543.8" y1="181.5" x2="633.8" y2="181.5" stroke="#00ff00" stroke-width="1" />
<rect x="538" y="176.8" width="94" height="2.4" fill="#00ffff"  />
<line x1="546" y1="175.5" x2="632" y2="175.5" stroke="#00a0a0" stroke-width="1" stroke-dasharray="1 6.77"/>
<rect x="534.5" y="175.5" width="4.0" height="5.0" fill="none" stroke="#00ffff" stroke-width="1" />
<line x1="536.6" y1="180" x2="536.6" y2="187.5" stroke="#00ffff" stroke-width="1.4" />
<circle cx="536.5" cy="190" r="2.7" fill="#00d090" stroke="#00ffff" stroke-width="1"/>
<path d="M530.6 193.5 L544.5 193.5 L544.5 198.8 Z" fill="none" stroke="#00ffff" stroke-width="1.2" />
<rect x="628.5" y="163.5" width="9.0" height="12.0" fill="#000" stroke="#00ff00" stroke-width="1" />
<path d="M637.5 164 L650.5 160.6 L650.5 178 L637.5 175.2" fill="none" stroke="#00ff00" stroke-width="1.2" />
<path d="M650.6 160.6 L637.8 169.5 L650.6 178" fill="none" stroke="#00ff00" stroke-width="1" />
<path d="M650.6 160.6 A34.9 34.9 0 0 1 685.5 195.5" fill="none" stroke="#ffff00" stroke-width="1.3" />
<path d="M650.6 178 A17.9 17.5 0 0 1 668.5 195.5" fill="none" stroke="#ffff00" stroke-width="1.3" />
<line x1="650.5" y1="160.4" x2="650.5" y2="178.4" stroke="#00ff00" stroke-width="1" />
<line x1="650.5" y1="159.6" x2="650.5" y2="161.2" stroke="#ffff00" stroke-width="1" />
<line x1="650.5" y1="177.4" x2="650.5" y2="179" stroke="#ffff00" stroke-width="1" />
<line x1="666" y1="195.5" x2="688" y2="195.5" stroke="#ffff00" stroke-width="1" />
<line x1="668.5" y1="195.2" x2="668.5" y2="325.6" stroke="#ffff00" stroke-width="1" />
<line x1="685.5" y1="195.2" x2="685.5" y2="325.6" stroke="#ffff00" stroke-width="1" />
<line x1="666" y1="325.5" x2="688" y2="325.5" stroke="#ffff00" stroke-width="1" />
<path d="M668.5 325.6 A34.6 35 0 0 0 703.1 360.6" fill="none" stroke="#ffff00" stroke-width="1.3" />
<path d="M685.5 325.6 A17.6 17.2 0 0 0 703.1 342.8" fill="none" stroke="#ffff00" stroke-width="1.3" />
<line x1="703.5" y1="341.2" x2="703.5" y2="362" stroke="#ffff00" stroke-width="1" />
<line x1="703.1" y1="342.8" x2="716.3" y2="344.4" stroke="#ffff00" stroke-width="1.3" />
<line x1="703.1" y1="360.6" x2="716.3" y2="358.8" stroke="#ffff00" stroke-width="1.3" />
<line x1="716.5" y1="343" x2="716.5" y2="360.2" stroke="#ffff00" stroke-width="1" />
<rect x="716.5" y="345.5" width="8.0" height="13.0" fill="none" stroke="#00ff00" stroke-width="1" />
<line x1="724.5" y1="343" x2="724.5" y2="360.2" stroke="#00ff00" stroke-width="1" />
<line x1="706.3" y1="355.6" x2="721.3" y2="351.5" stroke="#00ff00" stroke-width="1.3" />
<line x1="724.6" y1="345" x2="730" y2="342.3" stroke="#00ffff" stroke-width="1" />
<line x1="724.6" y1="358.2" x2="730" y2="361.2" stroke="#00ffff" stroke-width="1" />
<rect x="730.5" y="327.5" width="12.0" height="45.0" fill="none" stroke="#00ffff" stroke-width="1" />
<path d="M744 345.2 L760 345.2 Q763.6 345.2 763.6 348.8 L763.6 354.4 Q763.6 358 760 358 L744 358 Z" fill="none" stroke="#00ffff" stroke-width="1" />
<line x1="746.3" y1="347.5" x2="758.8" y2="347.5" stroke="#00ffff" stroke-width="1.3" />
<line x1="746.3" y1="349.5" x2="758.8" y2="349.5" stroke="#00ffff" stroke-width="1.3" />
<line x1="746.3" y1="351.5" x2="758.8" y2="351.5" stroke="#00ffff" stroke-width="1.3" />
<line x1="746.3" y1="354.5" x2="758.8" y2="354.5" stroke="#00ffff" stroke-width="1.3" />
<line x1="746.3" y1="356.5" x2="758.8" y2="356.5" stroke="#00ffff" stroke-width="1.3" />
<line x1="758.5" y1="345.2" x2="758.5" y2="358" stroke="#00ffff" stroke-width="1" />
<line x1="746.5" y1="345.2" x2="746.5" y2="358" stroke="#00ffff" stroke-width="1" />
<line x1="741.5" y1="359.5" x2="761.3" y2="359.5" stroke="#00ffff" stroke-width="1" />
<line x1="742.6" y1="361.5" x2="760.6" y2="361.5" stroke="#00ffff" stroke-width="1" />
<line x1="742.5" y1="359.8" x2="742.5" y2="375.5" stroke="#00ffff" stroke-width="1" />
<line x1="744.5" y1="361.2" x2="744.5" y2="375.5" stroke="#00ffff" stroke-width="1" />
<line x1="758.5" y1="361.2" x2="758.5" y2="375.5" stroke="#00ffff" stroke-width="1" />
<line x1="760.5" y1="359.8" x2="760.5" y2="375.5" stroke="#00ffff" stroke-width="1" />
<line x1="744.7" y1="373.5" x2="758.5" y2="373.5" stroke="#00ffff" stroke-width="1" />
<path d="M736.4 51.2 L725.4 65.5 L747.4 65.5 Z" fill="none" stroke="#ffff00" stroke-width="1.2" />
<rect x="729.5" y="65.5" width="15.0" height="3.0" fill="none" stroke="#ffff00" stroke-width="1" />
<rect x="727.5" y="68.5" width="18.0" height="172.0" fill="none" stroke="#ffff00" stroke-width="1" />
<path d="M727.5 240.5 L745.5 240.5 L747.6 251.5 L725.5 251.5 Z" fill="none" stroke="#ff00ff" stroke-width="1.2" />
<path d="M725.5 251 L725.5 316.3 L730.2 327.3" fill="none" stroke="#ff00ff" stroke-width="1.2" />
<path d="M742.6 327.3 L747.5 316.3 L747.5 251" fill="none" stroke="#ff00ff" stroke-width="1.2" />
<line x1="725.5" y1="316.5" x2="747.6" y2="316.5" stroke="#ff00ff" stroke-width="1" />
<rect x="356.1" y="272" width="18.7" height="9.2" fill="#ff9900"  />
<path d="M356.1 281 L358.2 284.9 L372.7 284.9 L374.8 281 Z" fill="#ff9900"  />
<path d="M355.8 280 L358 285 M375 280 L372.9 285" fill="none" stroke="#00ffff" stroke-width="0.6" />
<path d="M334 284.9 L375.6 284.9 L375.6 292.8 L334 292.8 L330.8 288.9 Z" fill="#00ffff" stroke="#00ffff" stroke-width="0.8" />
<line x1="335" y1="286.5" x2="374.5" y2="286.5" stroke="#ff9900" stroke-width="1" stroke-dasharray="3 2.1"/>
<line x1="336" y1="291.5" x2="374.5" y2="291.5" stroke="#ff9900" stroke-width="1" stroke-dasharray="3 2.1"/>
<path d="M334.0 288 L336.6 288 L338.4 290 L335.8 290 Z" fill="#000"  />
<path d="M339.1 288 L341.70000000000005 288 L343.5 290 L340.90000000000003 290 Z" fill="#000"  />
<path d="M344.2 288 L346.8 288 L348.59999999999997 290 L346.0 290 Z" fill="#000"  />
<path d="M349.3 288 L351.90000000000003 288 L353.7 290 L351.1 290 Z" fill="#000"  />
<path d="M354.4 288 L357.0 288 L358.79999999999995 290 L356.2 290 Z" fill="#000"  />
<path d="M359.5 288 L362.1 288 L363.9 290 L361.3 290 Z" fill="#000"  />
<path d="M364.6 288 L367.20000000000005 288 L369.0 290 L366.40000000000003 290 Z" fill="#000"  />
<path d="M369.7 288 L372.3 288 L374.09999999999997 290 L371.5 290 Z" fill="#000"  />
<path d="M332.6 288.9 L333.6 287.9 L333.6 289.9 Z" fill="#000"  />
<line x1="375.5" y1="284" x2="375.5" y2="293.6" stroke="#00ffff" stroke-width="1" />
<path d="M376 287.4 L379 287 L380.6 288.9 L379 290.8 L376 290.4 Z" fill="#00ffff" stroke="#00ffff" stroke-width="0.8" />
<path d="M381.2 286.4 L384.6 283.6 L386.2 283.6 Q388.6 288.6 386.2 293.4 L384.6 293.4 L381.2 291 Z" fill="none" stroke="#00ffff" stroke-width="1.3" />
<line x1="384.5" y1="284" x2="384.5" y2="293" stroke="#00ffff" stroke-width="1" />
<path d="M389.4 285.5 L389.4 322" fill="none" stroke="#00ffff" stroke-width="1" />
<rect x="355.5" y="294.5" width="43.0" height="81.0" fill="none" stroke="#ff00ff" stroke-width="1" />
<path d="M357.3 375.5 L357.3 296.4 L396.5 296.4 L396.5 375.5" fill="none" stroke="#ff00ff" stroke-width="1" />
<line x1="355.3" y1="326.5" x2="398.7" y2="326.5" stroke="#ff00ff" stroke-width="1" />
<line x1="355.3" y1="328.5" x2="398.7" y2="328.5" stroke="#ff00ff" stroke-width="1" />
<rect x="368.5" y="316.6" width="9.0" height="7.8" fill="#00ff00"  />
<path d="M368 316.5 Q366.2 320.5 368 324.5" fill="none" stroke="#00ff00" stroke-width="1" />
<rect x="377.5" y="316.5" width="9.0" height="8.0" fill="none" stroke="#00ff00" stroke-width="1" />
<path d="M386 317.5 L388 318.5 L388 322.5 L386 323.5" fill="none" stroke="#00ff00" stroke-width="0.9" />
</svg>
<div class="b g" style="left:120px;top:34px;width:73px;height:23.2px"><span style="left:8.5px;top:6.2px">引风机[开]</span></div>
<div class="b r" style="left:198.6px;top:34.7px;width:72.6px;height:23.1px"><span style="left:4.8px;top:4.6px">引风机[关]</span></div>
<div class="b g" style="left:120px;top:62.8px;width:73px;height:22.7px"><span style="left:8.5px;top:3.9px">鼓风机[开]</span></div>
<div class="b r" style="left:198.8px;top:63.3px;width:73.2px;height:22.8px"><span style="left:4.6px;top:3.3px">鼓风机[关]</span></div>
<div class="b g" style="left:119.7px;top:90.8px;width:74.2px;height:22.7px"><span style="left:8.8px;top:3.35px">加热[开]</span></div>
<div class="b r" style="left:199.6px;top:91px;width:73.4px;height:22.8px"><span style="left:3.8px;top:2.5px">加热[关]</span></div>
<div class="b g" style="left:119.5px;top:118px;width:74.5px;height:22.8px"><span style="left:9.0px;top:3.2px">粉碎[开]</span></div>
<div class="b r" style="left:200px;top:117.9px;width:74.6px;height:23.1px"><span style="left:3.4px;top:3.3px">粉碎[关]</span></div>
<div class="b g" style="left:119.3px;top:144.1px;width:74.7px;height:22.8px"><span style="left:9.2px;top:4.4px">加料[开]</span></div>
<div class="b r" style="left:200.9px;top:144.1px;width:75.0px;height:22.8px"><span style="left:2.5px;top:3.5px">加料[关]</span></div>
<div class="b g" style="left:118.8px;top:171.8px;width:75.2px;height:22.8px"><span style="left:9.7px;top:3.7px">脉冲仪[开]</span></div>
<div class="b r" style="left:200.9px;top:171.8px;width:75.1px;height:22.8px"><span style="left:2.5px;top:3.7px">脉冲仪[关]</span></div>
<div class="b g" style="left:118.4px;top:199px;width:75.6px;height:23px"><span style="left:10.1px;top:3.2px">出料[开]</span></div>
<div class="b r" style="left:201.2px;top:199.4px;width:75.8px;height:23.6px"><span style="left:2.2px;top:3.3px">出料[关]</span></div>
<div class="b g" style="left:298px;top:33px;width:74px;height:23.3px"><span style="left:6px;top:5.1px">冷却水[开]</span></div>
<div class="b r" style="left:378.8px;top:33.7px;width:74.2px;height:23.4px"><span style="left:5.5px;top:4.8px">冷却水[关]</span></div>
<div class="b g" style="left:524px;top:496px;width:77px;height:25.3px"><span style="left:20.9px;top:6.2px">退 出</span></div>
<div id="txt">
<div id="title">旋转闪蒸干燥机</div>
<div class="lb" style="left:129px;top:293.8px">鼓风机</div>
<div class="lb" style="left:226.5px;top:273.2px">热源</div>
<div class="lb" style="left:266px;top:284.2px">冷却水</div>
<div class="lb" style="left:345px;top:208px">主塔</div>
<div class="lb" style="left:448px;top:315.6px">关风机</div>
<div class="lb v" style="left:253px;top:333.4px"><span style="height:10px;line-height:10px">调</span><span style="height:10px;line-height:10px">速</span><span style="height:10px;line-height:10px">电</span><span style="height:10px;line-height:10px">机</span></div><div class="lb v" style="left:402px;top:292.4px"><span style="height:10px;line-height:10px">螺</span><span style="height:10px;line-height:10px">旋</span><span style="height:10px;line-height:10px">加</span><span style="height:10px;line-height:10px">料</span><span style="height:10px;line-height:10px">器</span></div><div class="lb v" style="left:463px;top:169.7px"><span style="height:9.7px;line-height:9.7px">旋</span><span style="height:9.7px;line-height:9.7px">风</span><span style="height:9.7px;line-height:9.7px">分</span><span style="height:9.7px;line-height:9.7px">离</span><span style="height:9.7px;line-height:9.7px">器</span></div><div class="lb v" style="left:687.3px;top:187.6px"><span style="height:9.85px;line-height:9.85px">脉</span><span style="height:9.85px;line-height:9.85px">冲</span><span style="height:9.85px;line-height:9.85px">布</span><span style="height:9.85px;line-height:9.85px">袋</span><span style="height:9.85px;line-height:9.85px">除</span><span style="height:9.85px;line-height:9.85px">尘</span><span style="height:9.85px;line-height:9.85px">器</span></div>
<div class="n" style="left:143px;top:402.5px;background:#ff0000;color:#fff">1</div>
<div class="st" style="left:163px;top:402px">第一步：预热所需温度，开引风机、鼓风机、加热、冷却水、搅<br>拌，<br>加热至所需温度后加入湿物料</div>
<div class="n" style="left:143px;top:442px;background:#00ff00;color:#000;font-weight:normal">2</div>
<div class="st" style="left:163px;top:444.5px">第二步：加入湿物料，开加料，脉冲布袋除尘。直至出料</div>
<div class="n" style="left:143px;top:481.7px;background:#ff9900;color:#000040;font-weight:normal">3</div>
<div class="st" style="left:163px;top:484px">第三步：连续生产过程</div>
</div>
</div>
<div id="lw"></div>
</body>
</html>
